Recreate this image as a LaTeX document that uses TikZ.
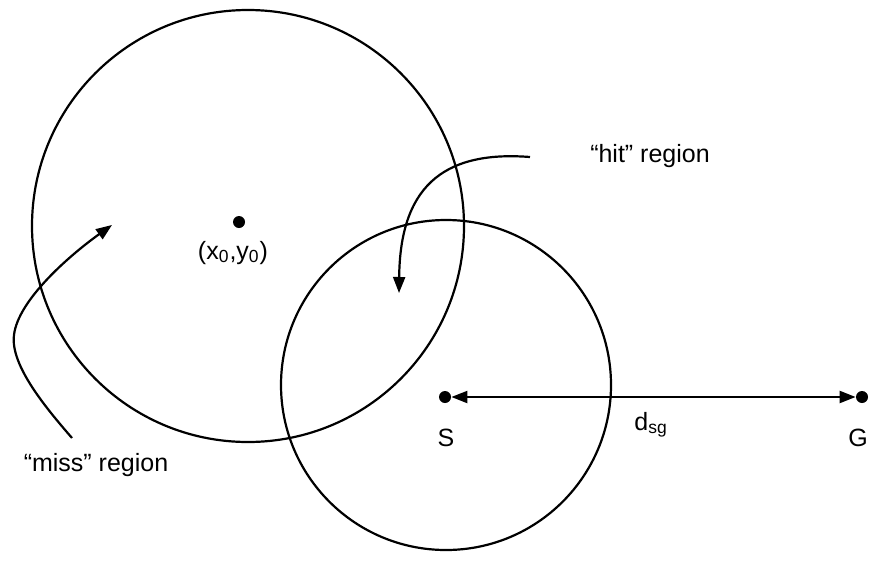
\documentclass[tikz,border=0pt]{standalone}
\usepackage{fontspec}
\setmainfont{Liberation Sans}
\usetikzlibrary{arrows.meta}

\begin{document}
\begin{tikzpicture}[
    x=0.5pt, y=-0.5pt,
    dot/.style={circle, fill=black, inner sep=0pt, minimum size=6pt},
    ring/.style={circle, draw, line width=1.1pt, inner sep=0pt},
    lbl/.style={font=\fontsize{12.5}{15}\selectfont, inner sep=0pt, anchor=base},
    >={Triangle[length=8pt, width=6pt]},
]
    \useasboundingbox (0,0) rectangle (870,578);

    % the two regions
    \node[ring, minimum size=216pt] (far)  at (248,226) {};
    \node[ring, minimum size=165pt] (near) at (446,385) {};

    % points
    \node[dot] (x0) at (239,222) {};
    \node[dot] (S)  at (445,397) {};
    \node[dot] (G)  at (862,397) {};

    \node[lbl] (x0lbl) at (233,259) {(x\textsubscript{0},y\textsubscript{0})};
    \node[lbl] (Slbl)  at (446,446) {S};
    \node[lbl] (Glbl)  at (858,446) {G};
    \node[lbl, anchor=base west] (dsg) at (634,430) {d\textsubscript{sg}};

    \draw[<->, line width=1.1pt] (S) -- (G);

    % region labels
    \node[lbl] (hit)  at (650,162) {``hit'' region};
    \node[lbl] (miss) at (96,471)  {``miss'' region};

    \coordinate (hit-a)  at (530,157);
    \coordinate (hit-b)  at (399,293);
    \coordinate (miss-a) at (72,438);
    \coordinate (miss-b) at (112,225);

    \draw[->, line width=1.1pt] (hit-a) .. controls (440,150) and (400,190) .. (hit-b);
    \draw[->, line width=1.1pt] (miss-a) .. controls (46,408) and (10,365) .. (14,335)
        .. controls (18,300) and (70,255) .. (miss-b);

\end{tikzpicture}
\end{document}
